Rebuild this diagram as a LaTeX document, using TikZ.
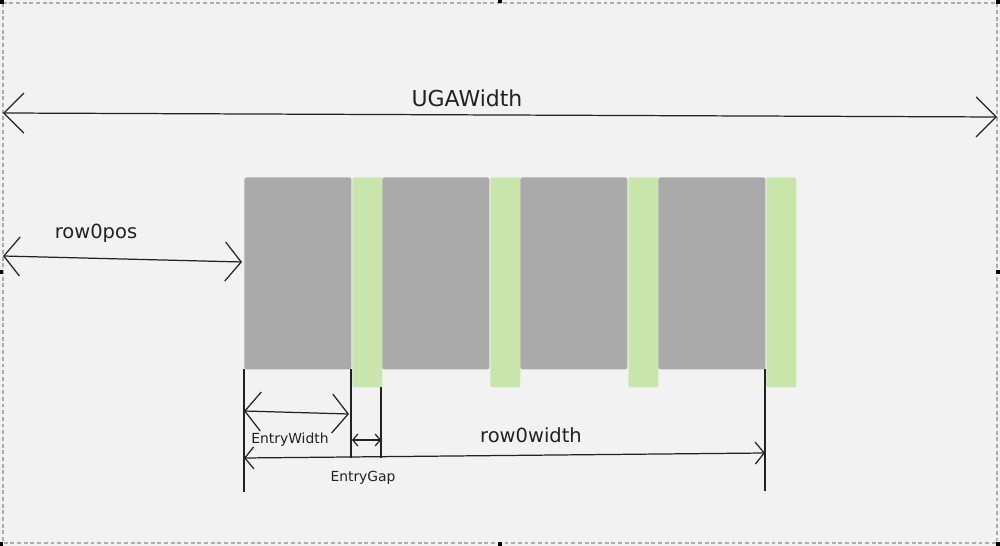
\documentclass[tikz,border=0pt]{standalone}
\usepackage{fontspec}
\setmainfont{DejaVu Sans}
\usetikzlibrary{arrows.meta}
\definecolor{bgc}{HTML}{F2F2F2}
\definecolor{blk}{HTML}{AAAAAA}
\definecolor{grn}{HTML}{C8E6AB}
\definecolor{ink}{HTML}{222222}
\tikzset{
  gblk/.style={fill=blk, draw=none, minimum width=2.14cm, minimum height=3.84cm, inner sep=0pt, anchor=north west, rounded corners=1.2pt},
  gbar/.style={fill=grn, draw=none, minimum width=0.6cm, minimum height=4.2cm, inner sep=0pt, anchor=north west, rounded corners=1.2pt},
  ext/.style={draw=ink, line width=0.6pt},
  dimline/.style={draw=ink, line width=0.7pt},
  big/.style={dimline, {Straight Barb[length=0.4cm,width=0.8cm]}-{Straight Barb[length=0.4cm,width=0.8cm]}},
  mid/.style={dimline, {Straight Barb[length=0.32cm,width=0.78cm]}-{Straight Barb[length=0.32cm,width=0.78cm]}},
  small/.style={dimline, {Straight Barb[length=0.18cm,width=0.44cm]}-{Straight Barb[length=0.18cm,width=0.44cm]}},
  tiny/.style={dimline, {Straight Barb[length=0.1cm,width=0.24cm]}-{Straight Barb[length=0.1cm,width=0.24cm]}},
  lblL/.style={font=\fontsize{11.1pt}{13pt}\selectfont, text=ink, inner sep=0pt},
  lblXL/.style={font=\fontsize{12.5pt}{15pt}\selectfont, text=ink, inner sep=0pt},
  lblS/.style={font=\fontsize{7.9pt}{9pt}\selectfont, text=ink, inner sep=0pt},
  handle/.style={fill=black, draw=none, minimum size=3pt, inner sep=0pt}
}
\begin{document}
\begin{tikzpicture}[x=0.02cm,y=-0.02cm]
\fill[bgc] (0,0) rectangle (1000,546);
\useasboundingbox (0,0) rectangle (1000,546);
\draw[gray!65, line width=0.6pt, dash pattern=on 2.2pt off 1.6pt] (3,3) rectangle (997,543);
% selection handles
\node[handle, minimum size=2pt] (h1) at (2,2) {};
\node[handle, minimum size=2pt] (h2) at (998,2) {};
\node[handle, minimum size=2pt] (h3) at (1,272) {};
\node[handle, minimum size=2pt] (h4) at (998,272) {};
\node[handle, minimum size=2pt] (h5) at (1,544) {};
\node[handle, minimum size=2pt] (h6) at (500,544) {};
\node[handle, minimum size=2pt] (h7) at (998,544) {};
\node[handle, minimum size=2pt] (h8) at (500,1) {};

% blocks
\node[gblk] (g1) at (244,177) {};
\node[gbar] (n1) at (352,177) {};
\node[gblk] (g2) at (382,177) {};
\node[gbar] (n2) at (490,177) {};
\node[gblk] (g3) at (520,177) {};
\node[gbar] (n3) at (628,177) {};
\node[gblk] (g4) at (658,177) {};
\node[gbar] (n4) at (766,177) {};

% extension lines
\coordinate (e1a) at (244,369); \coordinate (e1b) at (244,492);
\coordinate (e2a) at (351,369); \coordinate (e2b) at (351,458);
\coordinate (e3a) at (381,387); \coordinate (e3b) at (381,458);
\coordinate (e4a) at (765,369); \coordinate (e4b) at (765,491);
\draw[ext] (e1a) -- (e1b);
\draw[ext] (e2a) -- (e2b);
\draw[ext] (e3a) -- (e3b);
\draw[ext] (e4a) -- (e4b);

% dimension arrows
\coordinate (ugaL) at (3,113); \coordinate (ugaR) at (997,117);
\draw[big] (ugaL) -- (ugaR);
\node[lblXL] (uga) at (467,98) {UGAWidth};

\coordinate (rpL) at (3,256); \coordinate (rpR) at (242,262);
\draw[mid] (rpL) -- (rpR);
\node[lblL] (rp) at (96,233) {row0pos};

\coordinate (ewL) at (244,411); \coordinate (ewR) at (349,414);
\draw[mid] (ewL) -- (ewR);
\node[lblS] (ew) at (290,440) {EntryWidth};

\coordinate (egL) at (352,440); \coordinate (egR) at (381,440);
\draw[tiny] (egL) -- (egR);
\node[lblS] (eg) at (363,478) {EntryGap};

\coordinate (rwL) at (244,458); \coordinate (rwR) at (765,453);
\draw[small] (rwL) -- (rwR);
\node[lblL] (rw) at (531,435) {row0width};
\end{tikzpicture}
\end{document}
